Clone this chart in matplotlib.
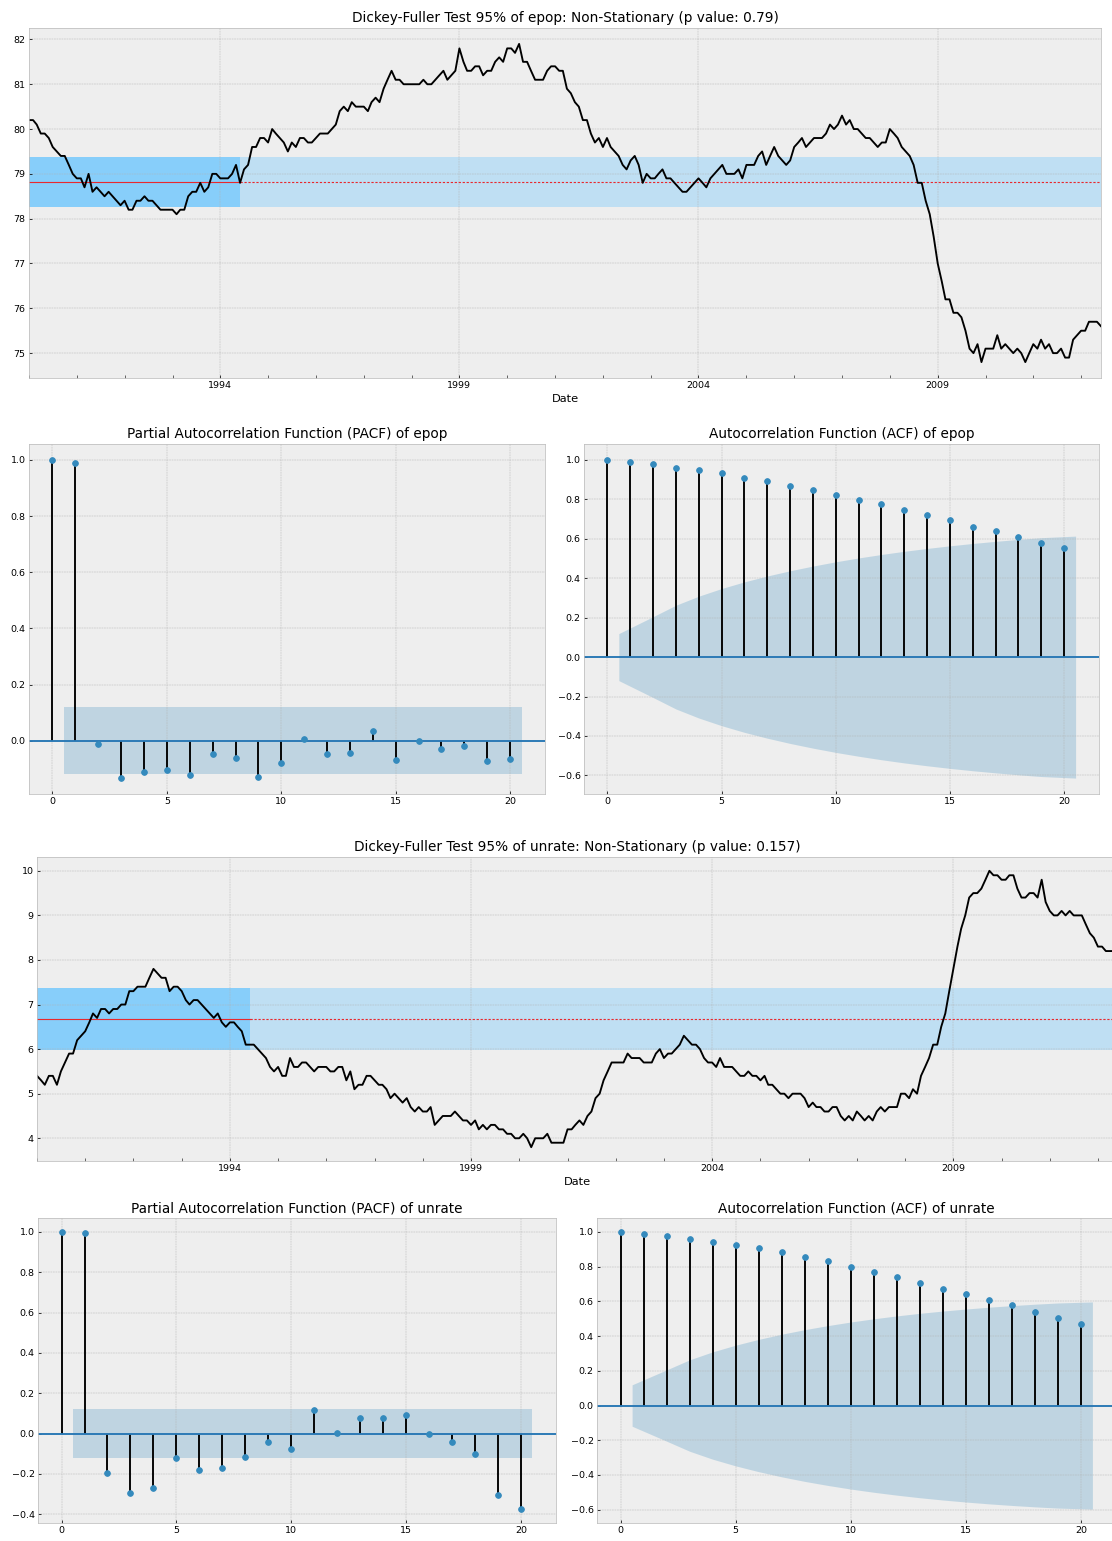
import numpy as np
import pandas as pd
import matplotlib
matplotlib.use('Agg')
import matplotlib.pyplot as plt
import matplotlib.dates as mdates

plt.style.use('bmh')

# monthly data, Jan 1990 - Jun 2012
dates = pd.date_range('1990-01-01', periods=270, freq='MS')

epop = [
    80.2, 80.2, 80.1, 79.9, 79.9, 79.8, 79.6, 79.5, 79.4, 79.4,
    79.2, 79.0, 78.9, 78.9, 78.7, 79.0, 78.6, 78.7, 78.6, 78.5,
    78.6, 78.5, 78.4, 78.3, 78.4, 78.2, 78.2, 78.4, 78.4, 78.5,
    78.4, 78.4, 78.3, 78.2, 78.2, 78.2, 78.2, 78.1, 78.2, 78.2,
    78.5, 78.6, 78.6, 78.8, 78.6, 78.7, 79.0, 79.0, 78.9, 78.9,
    78.9, 79.0, 79.2, 78.8, 79.1, 79.2, 79.6, 79.6, 79.8, 79.8,
    79.7, 80.0, 79.9, 79.8, 79.7, 79.5, 79.7, 79.6, 79.8, 79.8,
    79.7, 79.7, 79.8, 79.9, 79.9, 79.9, 80.0, 80.1, 80.4, 80.5,
    80.4, 80.6, 80.5, 80.5, 80.5, 80.4, 80.6, 80.7, 80.6, 80.9,
    81.1, 81.3, 81.1, 81.1, 81.0, 81.0, 81.0, 81.0, 81.0, 81.1,
    81.0, 81.0, 81.1, 81.2, 81.3, 81.1, 81.2, 81.3, 81.8, 81.5,
    81.3, 81.3, 81.4, 81.4, 81.2, 81.3, 81.3, 81.5, 81.6, 81.5,
    81.8, 81.8, 81.7, 81.9, 81.5, 81.5, 81.3, 81.1, 81.1, 81.1,
    81.3, 81.4, 81.4, 81.3, 81.3, 80.9, 80.8, 80.6, 80.5, 80.2,
    80.2, 79.9, 79.7, 79.8, 79.6, 79.8, 79.6, 79.5, 79.4, 79.2,
    79.1, 79.3, 79.4, 79.2, 78.8, 79.0, 78.9, 78.9, 79.0, 79.1,
    78.9, 78.9, 78.8, 78.7, 78.6, 78.6, 78.7, 78.8, 78.9, 78.8,
    78.7, 78.9, 79.0, 79.1, 79.2, 79.0, 79.0, 79.0, 79.1, 78.9,
    79.2, 79.2, 79.2, 79.4, 79.5, 79.2, 79.4, 79.6, 79.4, 79.3,
    79.2, 79.3, 79.6, 79.7, 79.8, 79.6, 79.7, 79.8, 79.8, 79.8,
    79.9, 80.1, 80.0, 80.1, 80.3, 80.1, 80.2, 80.0, 80.0, 79.9,
    79.8, 79.8, 79.7, 79.6, 79.7, 79.7, 80.0, 79.9, 79.8, 79.6,
    79.5, 79.4, 79.2, 78.8, 78.8, 78.4, 78.1, 77.6, 77.0, 76.6,
    76.2, 76.2, 75.9, 75.9, 75.8, 75.5, 75.1, 75.0, 75.2, 74.8,
    75.1, 75.1, 75.1, 75.4, 75.1, 75.2, 75.1, 75.0, 75.1, 75.0,
    74.8, 75.0, 75.2, 75.1, 75.3, 75.1, 75.2, 75.0, 75.0, 75.1,
    74.9, 74.9, 75.3, 75.4, 75.5, 75.5, 75.7, 75.7, 75.7, 75.6,
]

unrate = [
    5.4, 5.3, 5.2, 5.4, 5.4, 5.2, 5.5, 5.7, 5.9, 5.9, 6.2, 6.3,
    6.4, 6.6, 6.8, 6.7, 6.9, 6.9, 6.8, 6.9, 6.9, 7.0, 7.0, 7.3,
    7.3, 7.4, 7.4, 7.4, 7.6, 7.8, 7.7, 7.6, 7.6, 7.3, 7.4, 7.4,
    7.3, 7.1, 7.0, 7.1, 7.1, 7.0, 6.9, 6.8, 6.7, 6.8, 6.6, 6.5,
    6.6, 6.6, 6.5, 6.4, 6.1, 6.1, 6.1, 6.0, 5.9, 5.8, 5.6, 5.5,
    5.6, 5.4, 5.4, 5.8, 5.6, 5.6, 5.7, 5.7, 5.6, 5.5, 5.6, 5.6,
    5.6, 5.5, 5.5, 5.6, 5.6, 5.3, 5.5, 5.1, 5.2, 5.2, 5.4, 5.4,
    5.3, 5.2, 5.2, 5.1, 4.9, 5.0, 4.9, 4.8, 4.9, 4.7, 4.6, 4.7,
    4.6, 4.6, 4.7, 4.3, 4.4, 4.5, 4.5, 4.5, 4.6, 4.5, 4.4, 4.4,
    4.3, 4.4, 4.2, 4.3, 4.2, 4.3, 4.3, 4.2, 4.2, 4.1, 4.1, 4.0,
    4.0, 4.1, 4.0, 3.8, 4.0, 4.0, 4.0, 4.1, 3.9, 3.9, 3.9, 3.9,
    4.2, 4.2, 4.3, 4.4, 4.3, 4.5, 4.6, 4.9, 5.0, 5.3, 5.5, 5.7,
    5.7, 5.7, 5.7, 5.9, 5.8, 5.8, 5.8, 5.7, 5.7, 5.7, 5.9, 6.0,
    5.8, 5.9, 5.9, 6.0, 6.1, 6.3, 6.2, 6.1, 6.1, 6.0, 5.8, 5.7,
    5.7, 5.6, 5.8, 5.6, 5.6, 5.6, 5.5, 5.4, 5.4, 5.5, 5.4, 5.4,
    5.3, 5.4, 5.2, 5.2, 5.1, 5.0, 5.0, 4.9, 5.0, 5.0, 5.0, 4.9,
    4.7, 4.8, 4.7, 4.7, 4.6, 4.6, 4.7, 4.7, 4.5, 4.4, 4.5, 4.4,
    4.6, 4.5, 4.4, 4.5, 4.4, 4.6, 4.7, 4.6, 4.7, 4.7, 4.7, 5.0,
    5.0, 4.9, 5.1, 5.0, 5.4, 5.6, 5.8, 6.1, 6.1, 6.5, 6.8, 7.3,
    7.8, 8.3, 8.7, 9.0, 9.4, 9.5, 9.5, 9.6, 9.8, 10.0, 9.9, 9.9,
    9.8, 9.8, 9.9, 9.9, 9.6, 9.4, 9.4, 9.5, 9.5, 9.4, 9.8, 9.3,
    9.1, 9.0, 9.0, 9.1, 9.0, 9.1, 9.0, 9.0, 9.0, 8.8, 8.6, 8.5,
    8.3, 8.3, 8.2, 8.2, 8.2, 8.2,
]

lags = np.arange(21)
pacf_epop = [1.0, 0.99, -0.012, -0.133, -0.11, -0.105, -0.121, -0.046, -0.06, -0.13,
             -0.08, 0.006, -0.046, -0.042, 0.036, -0.068, -0.002, -0.031, -0.018, -0.073, -0.064]
acf_epop = [1.0, 0.988, 0.978, 0.959, 0.947, 0.932, 0.908, 0.891, 0.868, 0.849,
            0.82, 0.798, 0.774, 0.745, 0.72, 0.693, 0.662, 0.64, 0.61, 0.58, 0.552]
pacf_unrate = [1.0, 0.995, -0.195, -0.295, -0.27, -0.12, -0.18, -0.17, -0.115, -0.04,
               -0.075, 0.115, 0.005, 0.075, 0.075, 0.09, 0.0, -0.04, -0.10, -0.305, -0.375]
acf_unrate = [1.0, 0.99, 0.977, 0.96, 0.942, 0.925, 0.908, 0.884, 0.855, 0.832,
              0.798, 0.769, 0.74, 0.705, 0.67, 0.642, 0.607, 0.578, 0.538, 0.503, 0.468]

p_values = {'epop': 0.79, 'unrate': 0.157}
year_ticks = ['1994', '1999', '2004', '2009']

W, H, DPI = 1112, 1541, 68
fig = plt.figure(figsize=(W / DPI, H / DPI), dpi=DPI)


def box(l, t, r, b):
    return [l / W, 1 - b / H, (r - l) / W, (b - t) / H]


def ts_panel(ax, y, name):
    y = np.asarray(y)
    n = len(y)
    k = n // 5
    m, s = y[:k].mean(), y[:k].std()
    ax.axhspan(m - s, m + s, color='lightskyblue', alpha=0.45, lw=0)
    ax.fill_between(dates[:k], m - s, m + s, color='lightskyblue', lw=0)
    ax.plot(dates[:k], np.full(k, m), color='#e8282d', lw=1.2)
    ax.plot(dates[k - 1:], np.full(n - k + 1, m), color='#e8282d', lw=1.2, ls='--', dashes=(2, 1.5))
    ax.plot(dates, y, color='black', lw=2)
    ax.set_xlim(dates[0], dates[-1])
    ax.set_xticks(pd.to_datetime([t + '-01-01' for t in year_ticks]))
    ax.set_xticklabels(year_ticks)
    ax.xaxis.set_minor_locator(mdates.YearLocator(1))
    ax.tick_params(which='minor', length=3)
    ax.set_xlabel('Date')
    p = p_values[name]
    res = 'Stationary' if p < 0.05 else 'Non-Stationary'
    ax.set_title(f'Dickey-Fuller Test 95% of {name}: {res} (p value: {p})')


def corr_panel(ax, vals, title, acf=False):
    vals = np.asarray(vals)
    n = len(epop)
    if acf:
        var = np.r_[1, 1 + 2 * np.cumsum(vals[1:-1] ** 2)] / n
        band = 1.959964 * np.sqrt(var)
    else:
        band = np.full(len(vals) - 1, 1.959964 / np.sqrt(n))
    xs = lags[1:].astype(float)
    xs[0] -= 0.5
    xs[-1] += 0.5
    ax.vlines(lags, 0, vals, colors='k', lw=2)
    ax.axhline(0, color='#2878b5', lw=2)
    ax.plot(lags, vals, 'o', color='#348ABD', ms=6)
    ax.fill_between(xs, -band, band, color='#348ABD', alpha=0.25, lw=0)
    ax.set_title(title)


ax1 = fig.add_axes(box(29, 28, 1101, 378))
ts_panel(ax1, epop, 'epop')
ax2 = fig.add_axes(box(29, 444, 545, 794))
corr_panel(ax2, pacf_epop, 'Partial Autocorrelation Function (PACF) of epop')
ax3 = fig.add_axes(box(584, 444, 1099, 794))
corr_panel(ax3, acf_epop, 'Autocorrelation Function (ACF) of epop', acf=True)

ax4 = fig.add_axes(box(37, 857, 1118, 1161))
ts_panel(ax4, unrate, 'unrate')
ax5 = fig.add_axes(box(38, 1218, 556, 1523))
corr_panel(ax5, pacf_unrate, 'Partial Autocorrelation Function (PACF) of unrate')
ax6 = fig.add_axes(box(597, 1218, 1116, 1523))
corr_panel(ax6, acf_unrate, 'Autocorrelation Function (ACF) of unrate', acf=True)

fig.savefig('out.png', dpi=DPI)
